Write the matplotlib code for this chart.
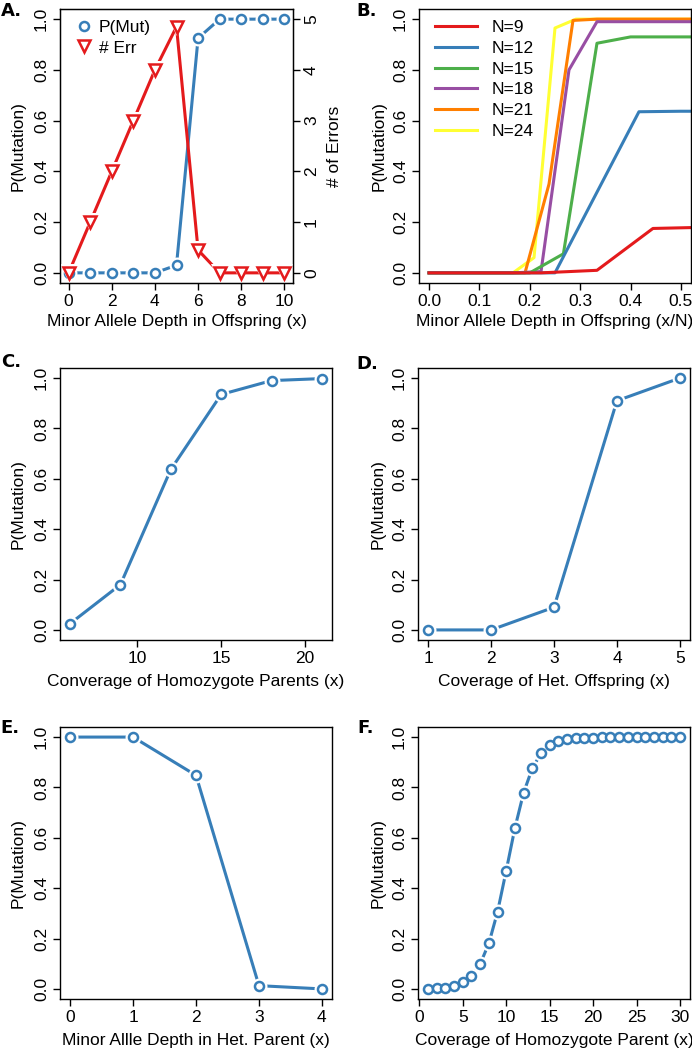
import matplotlib
matplotlib.use('Agg')
import matplotlib.pyplot as plt

plt.rcParams['font.family'] = ['Liberation Sans', 'DejaVu Sans']
plt.rcParams['font.size'] = 12

BLUE = '#377EB8'
RED = '#E41A1C'

# Panel A
a_x = [0, 1, 2, 3, 4, 5, 6, 7, 8, 9, 10]
a_pmut = [0.0, 0.0, 0.0, 0.0, 0.0, 0.03, 0.925, 1.0, 1.0, 1.0, 1.0]
a_err = [0.0, 1.0, 2.0, 3.0, 4.0, 4.85, 0.45, 0.0, 0.0, 0.0, 0.0]

# Panel B: x = k/N
b_n = [9, 12, 15, 18, 21, 24]
b_colors = ['#E41A1C', '#377EB8', '#4DAF4A', '#984EA3', '#FF7F00', '#FFFF33']
b_x = {
    9: [0/9, 1/9, 2/9, 3/9, 4/9, 5/9],
    12: [0/12, 1/12, 2/12, 3/12, 4/12, 5/12, 6/12, 7/12],
    15: [0/15, 1/15, 2/15, 3/15, 4/15, 5/15, 6/15, 7/15, 8/15],
    18: [0/18, 1/18, 2/18, 3/18, 4/18, 5/18, 6/18, 7/18, 8/18, 9/18, 10/18],
    21: [0/21, 1/21, 2/21, 3/21, 4/21, 5/21, 6/21, 7/21, 8/21, 9/21, 10/21, 11/21],
    24: [0/24, 1/24, 2/24, 3/24, 4/24, 5/24, 6/24, 7/24, 8/24, 9/24, 10/24, 11/24, 12/24, 13/24],
}
b_y = {
    9: [0.0, 0.0, 0.0, 0.01, 0.175, 0.18],
    12: [0.0, 0.0, 0.0, 0.0, 0.318, 0.635, 0.637, 0.637],
    15: [0.0, 0.0, 0.0, 0.0, 0.075, 0.905, 0.93, 0.93, 0.93],
    18: [0.0, 0.0, 0.0, 0.0, 0.005, 0.80, 0.99, 0.99, 0.99, 0.99, 0.99],
    21: [0.0, 0.0, 0.0, 0.0, 0.0, 0.35, 0.995, 1.0, 1.0, 1.0, 1.0, 1.0],
    24: [0.0, 0.0, 0.0, 0.0, 0.0, 0.06, 0.965, 1.0, 1.0, 1.0, 1.0, 1.0, 1.0, 1.0],
}

# Panel C
c_x = [6, 9, 12, 15, 18, 21]
c_y = [0.025, 0.18, 0.637, 0.935, 0.99, 0.998]

# Panel D
d_x = [1, 2, 3, 4, 5]
d_y = [0.0, 0.0, 0.09, 0.91, 1.0]

# Panel E
e_x = [0, 1, 2, 3, 4]
e_y = [1.0, 1.0, 0.848, 0.013, 0.0]

# Panel F
f_x = list(range(1, 31))
f_y = [0.0, 0.003, 0.005, 0.013, 0.026, 0.053, 0.099, 0.181, 0.306, 0.47,
       0.639, 0.779, 0.876, 0.935, 0.967, 0.983, 0.991, 0.995, 0.997, 0.998,
       0.999, 0.999, 1.0, 1.0, 1.0, 1.0, 1.0, 1.0, 1.0, 1.0]

W, H = 692, 1050
fig = plt.figure(figsize=(W / 100, H / 100), dpi=100)


def px_axes(left, top, right, bottom):
    return fig.add_axes([left / W, 1 - bottom / H, (right - left) / W, (bottom - top) / H])


def style(ax, xlabel, ylabel, ylab_x, xlab_y):
    for s in ax.spines.values():
        s.set_linewidth(1.0)
    ax.tick_params(direction='out', length=5, width=1, labelsize=12.5, pad=3)
    plt.setp(ax.get_yticklabels(), rotation=90, va='center')
    ax.set_xlabel(xlabel, fontsize=12.5, va='center')
    ax.set_ylabel(ylabel, fontsize=12.5, va='center')
    ax.xaxis.set_label_coords(0.5, xlab_y)
    ax.yaxis.set_label_coords(ylab_x, 0.5)


def type_b(ax, x, y, color, marker='o', ms=6.5, lw=2.2, z=2):
    # R style type="b": line with gaps around the points
    ax.plot(x, y, color=color, lw=lw, zorder=z)
    ax.plot(x, y, marker, ms=ms + 5, color='white', mew=0, zorder=z + 0.1)
    ax.plot(x, y, marker, ms=ms, mfc='white', mec=color, mew=1.8, zorder=z + 0.2)


yt = [0.0, 0.2, 0.4, 0.6, 0.8, 1.0]
ytl = ['0.0', '0.2', '0.4', '0.6', '0.8', '1.0']
ylim = (-0.04, 1.04)

# ---- A ----
axA = px_axes(60, 9, 293, 283)
axA2 = axA.twinx()
type_b(axA, a_x, a_pmut, BLUE)
type_b(axA2, a_x, a_err, RED, marker='v', ms=8)
axA.set_xlim(-0.4, 10.4)
axA.set_ylim(*ylim)
axA2.set_ylim(-0.2, 5.2)
axA.set_xticks([0, 2, 4, 6, 8, 10])
axA.set_yticks(yt)
axA.set_yticklabels(ytl)
axA2.set_yticks([0, 1, 2, 3, 4, 5])
style(axA, 'Minor Allele Depth in Offspring (x)', 'P(Mutation)', -0.18, -0.142)
axA2.tick_params(direction='out', length=5, width=1, labelsize=12.5, pad=3)
plt.setp(axA2.get_yticklabels(), rotation=90, va='center')
axA2.set_ylabel('# of Errors', fontsize=12.5, va='center')
axA2.yaxis.set_label_coords(1.18, 0.5)
hA1, = axA2.plot([], [], 'o', ms=6.5, mfc='white', mec=BLUE, mew=1.8)
hA2, = axA2.plot([], [], 'v', ms=8, mfc='white', mec=RED, mew=1.8)
axA2.legend([hA1, hA2], ['P(Mut)', '# Err'], loc='upper left', frameon=False,
            fontsize=12.5, handlelength=1.0, handletextpad=0.35, labelspacing=0.3,
            borderaxespad=0.0, bbox_to_anchor=(0.035, 0.985))

# ---- B ----
axB = px_axes(419, 9, 691, 283)
handles = {}
for n, col in reversed(list(zip(b_n, b_colors))):
    handles[n], = axB.plot(b_x[n], b_y[n], color=col, lw=2.2, label='N=%d' % n)
axB.set_xlim(-0.02, 0.52)
axB.set_ylim(*ylim)
axB.set_xticks([0.0, 0.1, 0.2, 0.3, 0.4, 0.5])
axB.set_xticklabels(['0.0', '0.1', '0.2', '0.3', '0.4', '0.5'])
axB.set_yticks(yt)
axB.set_yticklabels(ytl)
style(axB, 'Minor Allele Depth in Offspring (x/N)', 'P(Mutation)', -0.147, -0.142)
axB.legend([handles[n] for n in b_n], ['N=%d' % n for n in b_n],
           loc='upper left', frameon=False, fontsize=12.5, handlelength=2.4,
           handletextpad=0.85, labelspacing=0.32, borderaxespad=0.0,
           bbox_to_anchor=(0.035, 0.985))

# ---- C ----
axC = px_axes(60, 368, 332, 640)
type_b(axC, c_x, c_y, BLUE)
axC.set_xlim(5.4, 21.6)
axC.set_ylim(*ylim)
axC.set_xticks([10, 15, 20])
axC.set_yticks(yt)
axC.set_yticklabels(ytl)
style(axC, 'Converage of Homozygote Parents (x)', 'P(Mutation)', -0.154, -0.151)

# ---- D ----
axD = px_axes(418, 368, 690, 640)
type_b(axD, d_x, d_y, BLUE)
axD.set_xlim(0.84, 5.16)
axD.set_ylim(*ylim)
axD.set_xticks([1, 2, 3, 4, 5])
axD.set_yticks(yt)
axD.set_yticklabels(ytl)
style(axD, 'Coverage of Het. Offspring (x)', 'P(Mutation)', -0.147, -0.151)

# ---- E ----
axE = px_axes(60, 727, 332, 999)
type_b(axE, e_x, e_y, BLUE)
axE.set_xlim(-0.16, 4.16)
axE.set_ylim(*ylim)
axE.set_xticks([0, 1, 2, 3, 4])
axE.set_yticks(yt)
axE.set_yticklabels(ytl)
style(axE, 'Minor Allle Depth in Het. Parent (x)', 'P(Mutation)', -0.154, -0.151)

# ---- F ----
axF = px_axes(418, 727, 690, 999)
type_b(axF, f_x, f_y, BLUE)
axF.set_xlim(1 - 1.16, 30 + 1.16)
axF.set_ylim(*ylim)
axF.set_xticks([0, 5, 10, 15, 20, 25, 30])
axF.set_yticks(yt)
axF.set_yticklabels(ytl)
style(axF, 'Coverage of Homozygote Parent (x)', 'P(Mutation)', -0.147, -0.151)

# panel letters
for lab, x, y in [('A.', 11, 11), ('B.', 367, 11), ('C.', 11, 362),
                  ('D.', 367, 364), ('E.', 10, 728), ('F.', 366, 728)]:
    fig.text(x / W, 1 - y / H, lab, fontsize=13, fontweight='bold',
             family='DejaVu Sans', ha='center', va='center')

fig.savefig('out.png', dpi=100)
